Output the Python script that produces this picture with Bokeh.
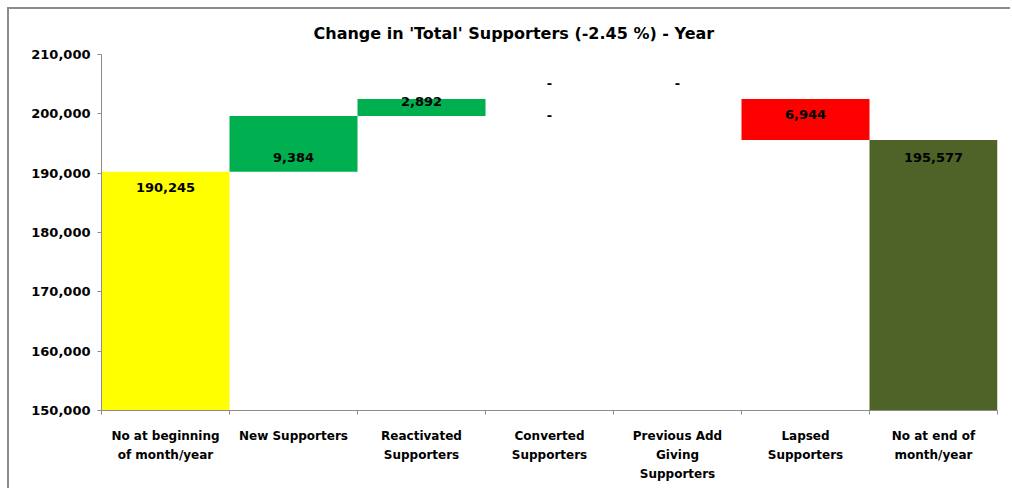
from bokeh.plotting import figure
from bokeh.models import (Range1d, LinearAxis, FixedTicker, NumeralTickFormatter, ColumnDataSource)
from bokeh.core.properties import value
from bokeh.embed import file_html
from bokeh.resources import INLINE

# ---- data ----
cat_labels = ["No at beginning\nof month/year", "New Supporters", "Reactivated\nSupporters",
              "Converted\nSupporters", "Previous Add\nGiving\nSupporters", "Lapsed\nSupporters",
              "No at end of\nmonth/year"]
changes = [190245, 9384, 2892, 0, 0, -6944, 195577]
kinds = ["total", "delta", "delta", "delta", "delta", "delta", "total"]
bar_colors = ["#FFFF00", "#00B050", "#00B050", "#00B050", "#00B050", "#FF0000", "#4F6228"]
label_text = ["190,245", "9,384", "2,892", "-", "-", "6,944", "195,577"]
label_dy = [16, 41, 3, -15, -15, 16, 17]   # pixel offset below bar top
y_ticks = [150000, 160000, 170000, 180000, 190000, 200000, 210000]

n = len(cat_labels)
centers = [i + 0.5 for i in range(n)]
bounds = list(range(n + 1))

# cumulative waterfall
bottoms, tops = [], []
level = 0
for v, k in zip(changes, kinds):
    if k == "total":
        b, t = 0, v
        level = v
    else:
        b, t = min(level, level + v), max(level, level + v)
        level = level + v
    bottoms.append(b)
    tops.append(t)

FONT = "DejaVu Sans"

p = figure(width=1003, height=481, x_range=Range1d(0, n), y_range=Range1d(y_ticks[0], y_ticks[-1]),
           output_backend="svg", toolbar_location=None, x_axis_location=None,
           min_border_left=92, min_border_right=15, min_border_top=45, min_border_bottom=80,
           title="Change in 'Total' Supporters (-2.45 %) - Year")
p.styles = {"margin-left": "7px", "margin-top": "7px",
            "border-left": "2px solid #8c8c8c", "border-top": "2px solid #8c8c8c",
            "border-right": "0px none", "border-bottom": "0px none"}
p.outline_line_color = None
p.grid.visible = False
p.title.align = "left"
p.title.offset = 212
p.title.standoff = 23
p.title.text_font = FONT
p.title.text_font_size = "16px"
p.title.text_font_style = "bold"
p.title.text_color = "black"

src = ColumnDataSource(dict(x=centers, bottom=bottoms, top=tops, color=bar_colors,
                            text=label_text, dy=label_dy))
p.vbar(x="x", bottom="bottom", top="top", width=1.0, color="color", line_color=None, source=src)

p.text(x="x", y="top", text="text", y_offset="dy", source=src,
       text_align="center", text_baseline="middle", text_font_size="13px",
       text_font_style="bold", text_font=value(FONT), text_color="black")
# extra zero-value label under the converted level
extra = ColumnDataSource(dict(x=[centers[3]], y=[tops[3]], text=["-"], dy=[17]))
p.text(x="x", y="y", text="text", y_offset="dy", source=extra,
       text_align="center", text_baseline="middle", text_font_size="13px",
       text_font_style="bold", text_font=value(FONT), text_color="black")

# y axis
ya = p.yaxis[0]
ya.ticker = FixedTicker(ticks=y_ticks)
ya.formatter = NumeralTickFormatter(format="0,0")
ya.axis_line_color = "#8c8c8c"
ya.major_tick_line_color = "#8c8c8c"
ya.major_tick_out = 4
ya.major_tick_in = 0
ya.minor_tick_line_color = None
ya.major_label_text_font = FONT
ya.major_label_text_font_size = "13px"
ya.major_label_text_font_style = "bold"
ya.major_label_text_color = "black"
ya.major_label_standoff = 7

# x axis tick marks at category boundaries (no labels)
tick_axis = LinearAxis(ticker=FixedTicker(ticks=bounds),
                       axis_line_color="#8c8c8c", major_tick_line_color="#8c8c8c",
                       major_tick_out=4, major_tick_in=0, minor_tick_line_color=None,
                       major_label_overrides={b: "" for b in bounds},
                       major_label_standoff=0)
p.add_layout(tick_axis, "below")

lab_axis = LinearAxis(ticker=FixedTicker(ticks=centers), axis_line_color=None,
                      major_tick_line_color=None, minor_tick_line_color=None,
                      major_label_overrides={c: l for c, l in zip(centers, cat_labels)},
                      major_label_text_font=FONT, major_label_text_font_size="12px",
                      major_label_text_font_style="bold", major_label_text_color="black",
                      major_label_text_line_height=1.36, major_label_standoff=8)
p.add_layout(lab_axis, "below")

open("out.html", "w").write(file_html(p, INLINE))
